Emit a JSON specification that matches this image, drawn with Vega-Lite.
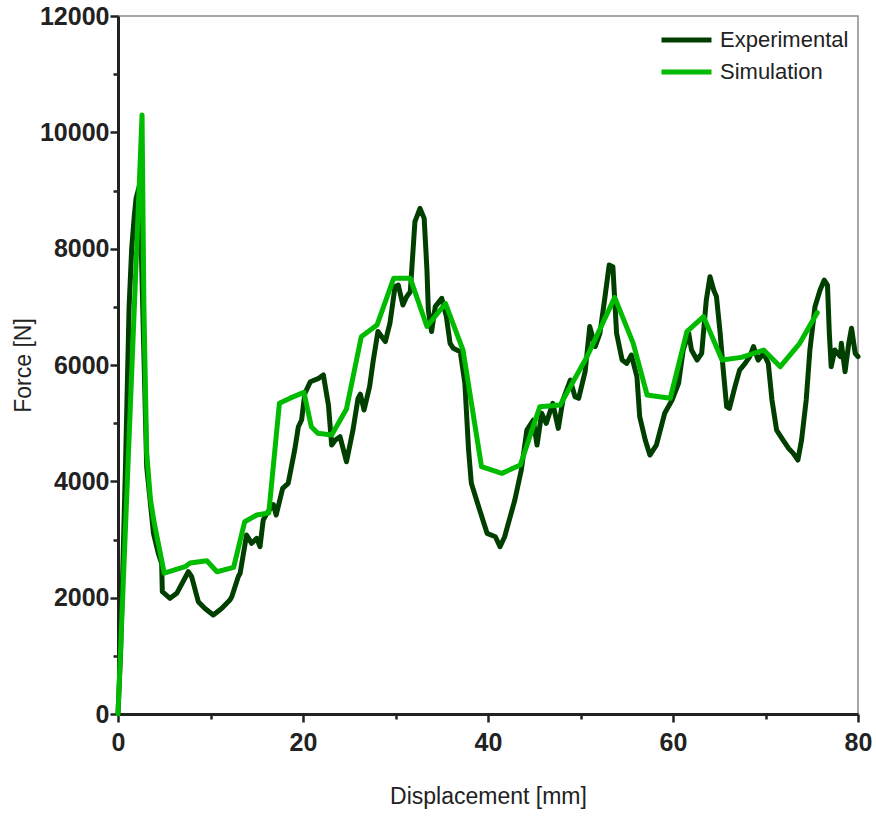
{
  "$schema": "https://vega.github.io/schema/vega-lite/v6.json",
  "width": 740,
  "height": 698,
  "autosize": {"type": "none"},
  "padding": {"left": 118, "top": 16, "right": 18, "bottom": 102},
  "background": "white",
  "config": {
    "view": {"stroke": "#8a8a8a", "strokeWidth": 1.5},
    "axis": {
      "grid": false,
      "domainColor": "#222222",
      "domainWidth": 3,
      "tickColor": "#222222",
      "tickWidth": 2.5,
      "labelFont": "Liberation Sans",
      "labelFontSize": 25,
      "labelFontWeight": "bold",
      "labelColor": "#222222",
      "titleFont": "Liberation Sans",
      "titleFontSize": 23,
      "titleFontWeight": "normal",
      "titleColor": "#222222",
      "labelOverlap": false,
      "labelFlush": false
    }
  },
  "datasets": {
    "exp": [
      {"x": 0, "y": 0}, {"x": 0.29, "y": 1100}, {"x": 0.8, "y": 4200}, {"x": 1.2, "y": 7000},
      {"x": 1.48, "y": 8005}, {"x": 1.77, "y": 8578}, {"x": 1.95, "y": 8864}, {"x": 2.35, "y": 9100},
      {"x": 2.75, "y": 6500}, {"x": 3.1, "y": 4251}, {"x": 3.83, "y": 3110}, {"x": 4.36, "y": 2762},
      {"x": 4.72, "y": 2590}, {"x": 4.79, "y": 2103}, {"x": 5.62, "y": 1988}, {"x": 6.35, "y": 2074},
      {"x": 7.6, "y": 2446}, {"x": 7.96, "y": 2360}, {"x": 8.68, "y": 1931}, {"x": 9.4, "y": 1815},
      {"x": 10.3, "y": 1702}, {"x": 11.2, "y": 1815}, {"x": 12.1, "y": 1960}, {"x": 12.3, "y": 2017},
      {"x": 13.0, "y": 2360}, {"x": 13.2, "y": 2419}, {"x": 13.9, "y": 3077}, {"x": 14.45, "y": 2934},
      {"x": 15.0, "y": 3020}, {"x": 15.35, "y": 2876}, {"x": 15.7, "y": 3335}, {"x": 16.1, "y": 3450},
      {"x": 16.8, "y": 3600}, {"x": 17.1, "y": 3421}, {"x": 17.8, "y": 3880}, {"x": 18.4, "y": 3965},
      {"x": 19.1, "y": 4538}, {"x": 19.5, "y": 4939}, {"x": 19.85, "y": 5054}, {"x": 20.2, "y": 5513},
      {"x": 20.8, "y": 5713}, {"x": 21.7, "y": 5771}, {"x": 22.2, "y": 5828}, {"x": 22.75, "y": 5312},
      {"x": 23.1, "y": 4624}, {"x": 23.5, "y": 4710}, {"x": 24.0, "y": 4767}, {"x": 24.7, "y": 4337},
      {"x": 25.4, "y": 4882}, {"x": 25.95, "y": 5427}, {"x": 26.2, "y": 5500}, {"x": 26.6, "y": 5226},
      {"x": 27.2, "y": 5627}, {"x": 27.6, "y": 6085}, {"x": 28.1, "y": 6575}, {"x": 28.9, "y": 6403},
      {"x": 29.4, "y": 6718}, {"x": 29.95, "y": 7347}, {"x": 30.3, "y": 7375}, {"x": 30.8, "y": 7032},
      {"x": 31.2, "y": 7175}, {"x": 31.6, "y": 7261}, {"x": 32.1, "y": 8464}, {"x": 32.65, "y": 8693},
      {"x": 33.1, "y": 8521}, {"x": 33.4, "y": 7633}, {"x": 33.55, "y": 6945}, {"x": 33.9, "y": 6575},
      {"x": 34.3, "y": 7003}, {"x": 35.0, "y": 7146}, {"x": 35.5, "y": 6832}, {"x": 35.9, "y": 6372},
      {"x": 36.25, "y": 6286}, {"x": 37.0, "y": 6229}, {"x": 37.5, "y": 5684}, {"x": 37.9, "y": 4538},
      {"x": 38.2, "y": 3965}, {"x": 39.1, "y": 3507}, {"x": 39.9, "y": 3106}, {"x": 40.8, "y": 3048},
      {"x": 41.3, "y": 2876}, {"x": 41.8, "y": 3048}, {"x": 42.9, "y": 3679}, {"x": 43.6, "y": 4194},
      {"x": 44.2, "y": 4882}, {"x": 44.9, "y": 5054}, {"x": 45.3, "y": 4624}, {"x": 45.8, "y": 5169},
      {"x": 46.3, "y": 4997}, {"x": 47.0, "y": 5341}, {"x": 47.6, "y": 4911}, {"x": 48.1, "y": 5398},
      {"x": 48.9, "y": 5741}, {"x": 49.4, "y": 5455}, {"x": 49.8, "y": 5427}, {"x": 50.5, "y": 5885},
      {"x": 51.0, "y": 6661}, {"x": 51.6, "y": 6318}, {"x": 52.1, "y": 6546}, {"x": 52.65, "y": 7175},
      {"x": 53.1, "y": 7718}, {"x": 53.5, "y": 7690}, {"x": 53.9, "y": 6546}, {"x": 54.5, "y": 6085},
      {"x": 55.0, "y": 6028}, {"x": 55.5, "y": 6171}, {"x": 56.1, "y": 5799}, {"x": 56.4, "y": 5112},
      {"x": 57.0, "y": 4710}, {"x": 57.5, "y": 4452}, {"x": 58.2, "y": 4624}, {"x": 59.1, "y": 5169},
      {"x": 59.9, "y": 5398}, {"x": 60.6, "y": 5684}, {"x": 61.1, "y": 6257}, {"x": 61.7, "y": 6546},
      {"x": 62.0, "y": 6257}, {"x": 62.6, "y": 6085}, {"x": 63.1, "y": 6200}, {"x": 63.6, "y": 7117},
      {"x": 64.0, "y": 7518}, {"x": 64.4, "y": 7289}, {"x": 64.7, "y": 7175}, {"x": 65.1, "y": 6546},
      {"x": 65.4, "y": 5971}, {"x": 65.8, "y": 5284}, {"x": 66.1, "y": 5255}, {"x": 66.7, "y": 5627},
      {"x": 67.2, "y": 5913}, {"x": 67.8, "y": 6028}, {"x": 68.3, "y": 6143}, {"x": 68.7, "y": 6315},
      {"x": 69.2, "y": 6085}, {"x": 69.8, "y": 6200}, {"x": 70.3, "y": 6028}, {"x": 70.7, "y": 5398},
      {"x": 71.2, "y": 4882}, {"x": 71.9, "y": 4710}, {"x": 72.5, "y": 4567}, {"x": 73.0, "y": 4481},
      {"x": 73.5, "y": 4366}, {"x": 73.9, "y": 4710}, {"x": 74.4, "y": 5398}, {"x": 74.8, "y": 6257},
      {"x": 75.35, "y": 7003}, {"x": 75.9, "y": 7289}, {"x": 76.35, "y": 7461}, {"x": 76.7, "y": 7375},
      {"x": 76.9, "y": 6546}, {"x": 77.1, "y": 5971}, {"x": 77.5, "y": 6257}, {"x": 78.1, "y": 6143},
      {"x": 78.2, "y": 6372}, {"x": 78.6, "y": 5885}, {"x": 79.0, "y": 6372}, {"x": 79.3, "y": 6632},
      {"x": 79.7, "y": 6200}, {"x": 80.0, "y": 6143}
    ],
    "sim": [
      {"x": 0, "y": 0}, {"x": 2.6, "y": 10300}, {"x": 2.8, "y": 7000}, {"x": 3.1, "y": 4500},
      {"x": 3.5, "y": 3700}, {"x": 3.9, "y": 3300}, {"x": 5.0, "y": 2420}, {"x": 7.25, "y": 2532},
      {"x": 7.8, "y": 2595}, {"x": 9.6, "y": 2635}, {"x": 10.7, "y": 2446}, {"x": 12.5, "y": 2520},
      {"x": 13.7, "y": 3306}, {"x": 15.0, "y": 3421}, {"x": 16.3, "y": 3455}, {"x": 17.45, "y": 5341},
      {"x": 18.6, "y": 5430}, {"x": 20.1, "y": 5530}, {"x": 20.9, "y": 4939}, {"x": 21.6, "y": 4825},
      {"x": 23.1, "y": 4796}, {"x": 24.7, "y": 5243}, {"x": 26.3, "y": 6486}, {"x": 28.0, "y": 6687},
      {"x": 29.8, "y": 7490}, {"x": 31.6, "y": 7490}, {"x": 33.4, "y": 6661}, {"x": 35.4, "y": 7058},
      {"x": 37.3, "y": 6257}, {"x": 39.3, "y": 4251}, {"x": 41.5, "y": 4137}, {"x": 43.5, "y": 4280},
      {"x": 45.6, "y": 5283}, {"x": 47.8, "y": 5312}, {"x": 50.7, "y": 6142}, {"x": 53.7, "y": 7162},
      {"x": 55.7, "y": 6372}, {"x": 57.2, "y": 5484}, {"x": 59.7, "y": 5427}, {"x": 61.5, "y": 6575},
      {"x": 63.3, "y": 6832}, {"x": 65.3, "y": 6085}, {"x": 67.4, "y": 6131}, {"x": 69.8, "y": 6257},
      {"x": 71.6, "y": 5971}, {"x": 73.7, "y": 6372}, {"x": 75.6, "y": 6901}
    ]
  },
  "encoding": {
    "x": {
      "field": "x", "type": "quantitative",
      "scale": {"domain": [0, 80], "nice": false, "zero": false},
      "axis": {
        "title": "Displacement [mm]",
        "values": [0, 10, 20, 30, 40, 50, 60, 70, 80],
        "labelExpr": "datum.value % 20 === 0 ? datum.label : ''",
        "format": "d",
        "tickSize": {"condition": {"test": "datum.value % 20 === 0", "value": 8}, "value": 5},
        "labelPadding": 8,
        "titlePadding": 30
      }
    },
    "y": {
      "field": "y", "type": "quantitative",
      "scale": {"domain": [0, 12000], "nice": false},
      "axis": {
        "title": "Force [N]",
        "values": [0, 1000, 2000, 3000, 4000, 5000, 6000, 7000, 8000, 9000, 10000, 11000, 12000],
        "labelExpr": "datum.value % 2000 === 0 ? datum.label : ''",
        "format": "d",
        "tickSize": {"condition": {"test": "datum.value % 2000 === 0", "value": 8}, "value": 5},
        "labelPadding": 1,
        "titlePadding": 4
      }
    },
    "color": {
      "datum": "Experimental", "type": "nominal",
      "scale": {"domain": ["Experimental", "Simulation"], "range": ["#003f00", "#00bb00"]},
      "legend": {
        "title": null, "orient": "none", "legendX": 541, "legendY": 8,
        "symbolType": "stroke", "symbolSize": 2500, "symbolStrokeWidth": 5,
        "clipHeight": 32, "rowPadding": 0, "padding": 0,
        "labelFont": "Liberation Sans", "labelFontSize": 22, "labelColor": "#222222",
        "labelOffset": 6
      }
    }
  },
  "layer": [
    {
      "data": {"name": "exp"},
      "mark": {"type": "line", "strokeWidth": 5, "strokeJoin": "round", "strokeCap": "round"},
      "encoding": {"color": {"datum": "Experimental", "type": "nominal"}}
    },
    {
      "data": {"name": "sim"},
      "mark": {"type": "line", "strokeWidth": 5, "strokeJoin": "round", "strokeCap": "round"},
      "encoding": {"color": {"datum": "Simulation", "type": "nominal"}}
    }
  ]
}
